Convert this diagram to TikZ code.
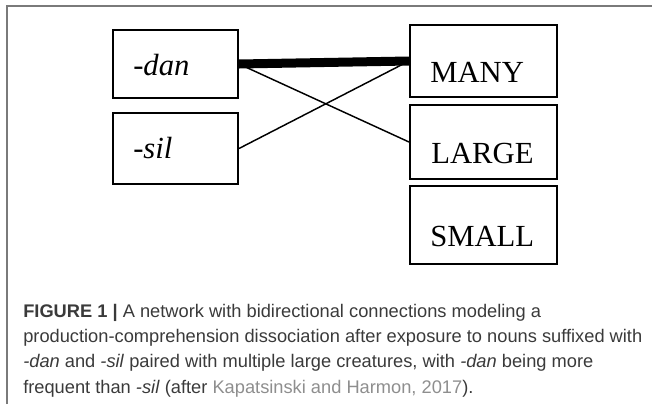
\documentclass[tikz,border=0pt]{standalone}
\usepackage{fontspec}
\setmainfont{Liberation Serif}
\newfontfamily\capfont{Liberation Sans}
\definecolor{capText}{HTML}{3A3A3A}
\definecolor{linkText}{HTML}{8E8E8E}
\definecolor{frameLine}{HTML}{7A7A7A}

\begin{document}
\begin{tikzpicture}[x=0.75pt, y=-0.75pt]

    \tikzset{unit/.style={draw, line width=1.5pt, inner sep=0pt},
        word/.style={anchor=base west, inner sep=0pt,
            font=\fontsize{23}{27}\selectfont},
        link/.style={line width=1.1pt},
        capline/.style={anchor=base west, inner sep=0pt, text=capText,
            font=\capfont\fontsize{13.7}{16}\selectfont}}

    \useasboundingbox (0,0) rectangle (652,404);

    % frame of the figure panel
    \draw[frameLine, line width=0.9pt] (7,404) -- (7,6) -- (652,6);

    % suffix units
    \node[unit, minimum width=93.75pt, minimum height=51pt] (dan) at (175.5,64) {};
    \node[unit, minimum width=93.75pt, minimum height=53.25pt] (sil) at (175.5,148.5) {};
    \node[word] (danText) at (133,75) {\itshape -dan};
    \node[word] (silText) at (133,158) {\itshape -sil};

    % meaning units
    \node[unit, minimum width=110.25pt, minimum height=54pt] (many) at (483.5,61) {};
    \node[unit, minimum width=110.25pt, minimum height=55.5pt] (large) at (483.5,142) {};
    \node[unit, minimum width=110.25pt, minimum height=58.5pt] (small) at (483.5,225) {};
    \node[word] (manyText) at (430,82) {MANY};
    \node[word] (largeText) at (431,163) {LARGE};
    \node[word] (smallText) at (430,246) {SMALL};

    % connections
    \draw[line width=6.75pt] (dan.east) -- (many.west);
    \draw[link] (dan.east) -- (large.west);
    \draw[link] (sil.east) -- (many.west);

    % caption
    \node[capline] (cap1) at (23,317) {\textbf{FIGURE 1 |} A network with bidirectional connections modeling a};
    \node[capline] (cap2) at (23,342) {production-comprehension dissociation after exposure to nouns suffixed with};
    \node[capline] (cap3) at (23,367.5) {\textit{-dan} and \textit{-sil} paired with multiple large creatures, with \textit{-dan} being more};
    \node[capline] (cap4) at (23,393) {frequent than \textit{-sil} (after \textcolor{linkText}{Kapatsinski and Harmon, 2017}).};

\end{tikzpicture}
\end{document}
